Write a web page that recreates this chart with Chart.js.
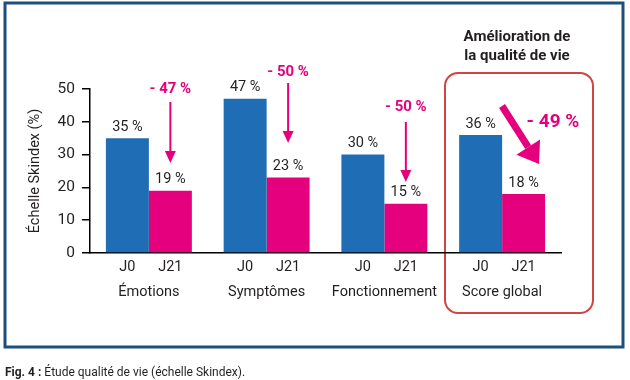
<!DOCTYPE html>
<html>
<head>
<meta charset="utf-8">
<script src="https://cdn.jsdelivr.net/npm/chart.js@4/dist/chart.umd.min.js"></script>
<style>
  body { margin: 0; background: #fff; }
  canvas { display: block; }
</style>
</head>
<body>
<canvas id="grafico" width="630" height="380"></canvas>
<script>
var categorias = ['Émotions', 'Symptômes', 'Fonctionnement', 'Score global'];
var jours = ['J0', 'J21'];
var valoresJ0 = [35, 47, 30, 36];
var valoresJ21 = [19, 23, 15, 18];
var reducoes = ['- 47 %', '- 50 %', '- 50 %', '- 49 %'];
var ticksY = [0, 10, 20, 30, 40, 50];

var AZUL = '#1f6db5';
var ROSA = '#e5007d';
var TEXTO = '#231f20';
var FONTE = 'Roboto, "Liberation Sans", sans-serif';

// where the small vertical arrows sit (pixels)
var setas = [
	{ topo: 102, ponta: 163, texto: 89 },
	{ topo: 83, ponta: 143, texto: 72 },
	{ topo: 122, ponta: 182, texto: 107 }
];

function seta(ctx, x1, y1, x2, y2, largura, cabeca, larguraCabeca) {
	var ang = Math.atan2(y2 - y1, x2 - x1);
	var bx = x2 - Math.cos(ang) * cabeca;
	var by = y2 - Math.sin(ang) * cabeca;
	ctx.save();
	ctx.strokeStyle = ROSA;
	ctx.fillStyle = ROSA;
	ctx.lineWidth = largura;
	ctx.beginPath();
	ctx.moveTo(x1, y1);
	ctx.lineTo(bx, by);
	ctx.stroke();
	var px = Math.cos(ang + Math.PI / 2) * larguraCabeca / 2;
	var py = Math.sin(ang + Math.PI / 2) * larguraCabeca / 2;
	ctx.beginPath();
	ctx.moveTo(x2, y2);
	ctx.lineTo(bx + px, by + py);
	ctx.lineTo(bx - px, by - py);
	ctx.closePath();
	ctx.fill();
	ctx.restore();
}

function caixaArredondada(ctx, x, y, w, h, r) {
	ctx.beginPath();
	ctx.moveTo(x + r, y);
	ctx.lineTo(x + w - r, y);
	ctx.arcTo(x + w, y, x + w, y + r, r);
	ctx.lineTo(x + w, y + h - r);
	ctx.arcTo(x + w, y + h, x + w - r, y + h, r);
	ctx.lineTo(x + r, y + h);
	ctx.arcTo(x, y + h, x, y + h - r, r);
	ctx.lineTo(x, y + r);
	ctx.arcTo(x, y, x + r, y, r);
	ctx.closePath();
}

var fundo = {
	id: 'fundo',
	beforeDraw: function(chart) {
		var ctx = chart.ctx;
		ctx.save();
		ctx.fillStyle = '#fff';
		ctx.fillRect(0, 0, chart.width, chart.height);
		ctx.strokeStyle = '#1c4e7e';
		ctx.lineWidth = 3;
		ctx.strokeRect(5, 3, 618, 344);
		ctx.strokeStyle = '#d0453f';
		ctx.lineWidth = 2;
		caixaArredondada(ctx, 445, 73, 148, 240, 13);
		ctx.stroke();
		ctx.restore();
	}
};

var anotacoes = {
	id: 'anotacoes',
	afterDraw: function(chart) {
		var ctx = chart.ctx;
		var metaJ0 = chart.getDatasetMeta(0);
		var metaJ21 = chart.getDatasetMeta(1);
		var escalaX = chart.scales.x;
		ctx.save();
		ctx.textAlign = 'center';
		ctx.textBaseline = 'middle';

		categorias.forEach(function(cat, i) {
			var b0 = metaJ0.data[i];
			var b1 = metaJ21.data[i];
			ctx.fillStyle = TEXTO;
			ctx.font = '14.5px ' + FONTE;
			ctx.fillText(valoresJ0[i] + ' %', b0.x, b0.y - 11);
			ctx.fillText(valoresJ21[i] + ' %', b1.x, b1.y - 11);
			ctx.fillText(jours[0], b0.x, 267);
			ctx.fillText(jours[1], b1.x, 267);
			ctx.fillText(cat, escalaX.getPixelForValue(i), 292);

			ctx.fillStyle = ROSA;
			if (i < 3) {
				var s = setas[i];
				ctx.font = 'bold 15px ' + FONTE;
				ctx.fillText(reducoes[i], b1.x, s.texto);
				seta(ctx, b1.x, s.topo, b1.x, s.ponta, 2, 12, 11);
			} else {
				ctx.font = 'bold 19px ' + FONTE;
				ctx.fillText(reducoes[i], 553, 122);
				seta(ctx, 502, 106, 539, 164, 7, 20, 28);
			}
		});

		ctx.fillStyle = TEXTO;
		ctx.font = 'bold 15px ' + FONTE;
		ctx.fillText('Amélioration de', 517, 37);
		ctx.fillText('la qualité de vie', 517, 56);

		ctx.textAlign = 'left';
		ctx.font = 'bold 12px ' + FONTE;
		ctx.fillText('Fig. 4 :', 5, 373);
		var w = ctx.measureText('Fig. 4 : ').width;
		ctx.font = '12px ' + FONTE;
		ctx.fillText('Étude qualité de vie (échelle Skindex).', 5 + w, 373);
		ctx.restore();
	}
};

var grafico = new Chart(document.getElementById('grafico').getContext('2d'), {
	type: 'bar',
	data: {
		labels: categorias,
		datasets: [{
			label: jours[0],
			backgroundColor: AZUL,
			data: valoresJ0
		}, {
			label: jours[1],
			backgroundColor: ROSA,
			data: valoresJ21
		}]
	},
	options: {
		responsive: false,
		animation: false,
		events: [],
		layout: { padding: { top: 89, right: 69, bottom: 127, left: 0 } },
		datasets: { bar: { categoryPercentage: 0.73, barPercentage: 1 } },
		plugins: { legend: { display: false }, tooltip: { enabled: false } },
		scales: {
			x: {
				ticks: { display: false },
				grid: { display: false },
				border: { display: true, color: '#000', width: 1.5 },
				afterFit: function(scale) { scale.height = 0; }
			},
			y: {
				min: 0,
				max: 50,
				afterBuildTicks: function(scale) {
					scale.ticks = ticksY.map(function(v) { return { value: v }; });
				},
				ticks: { color: TEXTO, padding: 7, font: { family: FONTE, size: 15.5 } },
				grid: { drawOnChartArea: false, tickLength: 8, color: '#000', lineWidth: 1.5 },
				border: { display: true, color: '#000', width: 1.5 },
				title: {
					display: true,
					text: 'Échelle Skindex (%)',
					color: TEXTO,
					font: { family: FONTE, size: 14.5 },
					padding: { top: 27, bottom: 0 }
				},
				afterFit: function(scale) { scale.width = 90; }
			}
		}
	},
	plugins: [fundo, anotacoes]
});
</script>
</body>
</html>
